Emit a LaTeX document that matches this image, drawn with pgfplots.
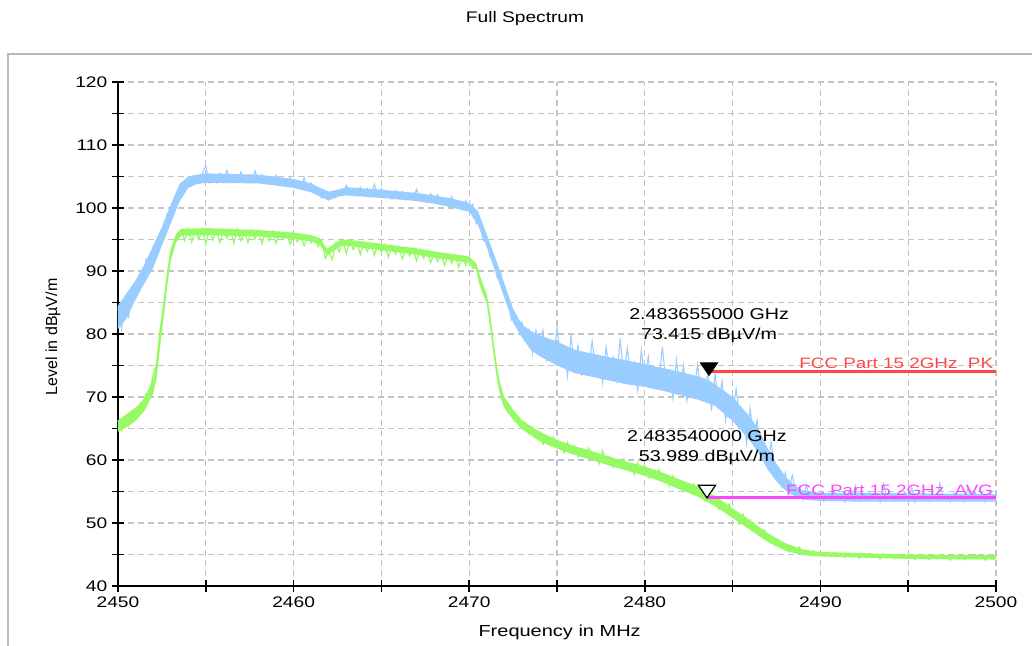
\documentclass[border=0pt]{standalone}
\usepackage{fontspec}
\setmainfont{Liberation Sans}[FakeStretch=1.25]
\newfontfamily\plainfont{Liberation Sans}
\usepackage{pgfplots}
\usepackage{pgfplotstable}
\pgfplotsset{compat=1.18}
\usepgfplotslibrary{fillbetween}
\definecolor{pk}{RGB}{153,204,255}
\definecolor{av}{RGB}{150,250,100}
\definecolor{limred}{RGB}{255,70,70}
\definecolor{limmag}{RGB}{255,70,255}
\definecolor{gridc}{RGB}{195,195,195}
\definecolor{framec}{RGB}{185,185,185}
\pgfdeclareplotmark{tridown}{%
  \pgfpathmoveto{\pgfqpoint{0pt}{0pt}}%
  \pgfpathlineto{\pgfqpoint{-6.5pt}{9.5pt}}%
  \pgfpathlineto{\pgfqpoint{6.5pt}{9.5pt}}%
  \pgfpathclose
  \pgfusepathqfillstroke}
% envelopes of the noise bands: x, lower, upper
\pgfplotstableread{
x L U
2450.0 80.8 84.5
2450.5 82.5 86.5
2451.0 85.5 88.5
2451.5 88.0 91.0
2452.0 90.5 94.0
2452.5 94.0 97.0
2453.0 97.5 100.5
2453.5 101.0 103.8
2454.0 103.2 105.0
2454.5 103.8 105.3
2455.0 104.0 105.5
2458.0 103.9 105.3
2460.0 103.2 104.6
2461.0 102.5 103.9
2461.5 101.8 103.2
2462.0 101.2 102.6
2462.5 101.8 102.9
2463.0 102.0 103.3
2465.0 101.6 102.9
2467.0 101.1 102.4
2468.0 100.7 102.0
2469.0 100.1 101.5
2470.0 99.4 100.8
2470.5 97.3 99.5
2471.0 93.8 95.8
2471.5 89.8 92.0
2472.0 85.8 88.0
2472.5 81.8 84.0
2473.0 79.5 81.5
2473.5 77.5 80.5
2474.0 76.5 79.8
2475.0 75.0 78.8
2476.0 73.8 77.5
2477.0 73.2 76.9
2478.0 72.6 76.3
2479.0 72.0 75.8
2480.0 71.6 75.2
2481.0 71.0 74.6
2482.0 70.3 74.0
2483.0 69.6 73.3
2483.6 69.0 72.7
2484.0 68.6 72.0
2485.0 66.2 70.0
2486.0 63.0 66.8
2486.5 61.0 64.8
2487.0 58.5 61.8
2487.5 56.6 59.4
2488.0 55.2 57.4
2488.5 54.3 56.0
2489.0 53.7 55.2
2490.0 53.5 54.8
2492.0 53.4 54.8
2495.0 53.4 54.7
2500.0 53.4 54.6
}\pkenv
\pgfplotstableread{
x L U
2450.0 64.5 66.3
2450.5 65.2 67.3
2451.0 66.2 68.3
2451.5 67.8 69.8
2452.0 70.5 72.8
2452.2 73.0 75.5
2452.4 78.0 81.0
2452.6 82.5 85.5
2452.8 87.5 90.0
2453.0 91.5 93.5
2453.3 94.5 95.8
2453.6 95.6 96.7
2455.0 95.7 96.8
2458.0 95.5 96.5
2460.0 95.1 96.1
2461.0 94.7 95.7
2461.5 94.1 95.2
2461.9 92.5 93.5
2462.3 93.2 94.3
2462.7 94.0 95.0
2463.0 94.0 95.0
2465.0 93.3 94.3
2467.0 92.6 93.6
2468.0 92.1 93.1
2469.0 91.7 92.7
2470.0 91.3 92.3
2470.4 90.2 91.2
2470.7 87.0 88.5
2471.0 84.8 86.3
2471.2 81.0 83.0
2471.4 76.5 78.5
2471.6 72.5 74.5
2471.8 69.8 71.8
2472.0 68.3 70.0
2472.5 66.4 68.0
2473.0 64.9 66.3
2474.0 63.0 64.5
2475.0 61.8 63.2
2476.0 60.8 62.2
2477.0 60.0 61.4
2478.0 59.1 60.5
2479.0 58.3 59.7
2480.0 57.5 59.0
2481.0 56.5 58.0
2482.0 55.3 56.9
2483.0 54.2 55.8
2484.0 52.7 54.3
2485.0 50.8 52.3
2486.0 48.9 50.4
2487.0 47.0 48.4
2488.0 45.6 46.8
2489.0 44.9 45.8
2490.0 44.7 45.4
2495.0 44.3 45.0
2500.0 44.2 44.9
}\avenv
\begin{document}
\begin{tikzpicture}[x=1pt,y=1pt]
\draw[framec, line width=1.3pt] (695,399) -- (-82.5,399) -- (-82.5,-55.5);
\node[font=\fontsize{11.5}{13}\selectfont] at (305.25,425.25) {Full Spectrum};
\begin{axis}[at={(0,0)}, anchor=south west, scale only axis,
  width=658.5pt, height=378pt,
  xmin=2450, xmax=2500, ymin=40, ymax=120,
  xtick={2450,2460,...,2500}, minor xtick={2455,2465,...,2495},
  ytick={40,50,...,120}, minor ytick={45,55,...,115},
  grid=both,
  major grid style={gridc, dash pattern=on 4.5pt off 3pt, line width=0.8pt},
  minor grid style={gridc, dash pattern=on 4.5pt off 3pt, line width=0.8pt},
  axis lines*=left,
  axis line style={line width=1.4pt, black},
  tick align=center, major tick length=9pt, minor tick length=9pt,
  every tick/.style={line width=1.2pt, black},
  scaled x ticks=false, scaled y ticks=false,
  /pgf/number format/1000 sep={},
  /pgf/number format/assume math mode=true,
  ticklabel style={font=\fontsize{11.5}{13}\selectfont},
  xlabel={Frequency in MHz},
  ylabel={Level in dBµV/m},
  xlabel style={at={(axis description cs:0.503,-0.091)}, anchor=center, font=\fontsize{12}{14}\selectfont},
  ylabel style={at={(axis description cs:-0.074,0.494)}, anchor=center, font=\plainfont\fontsize{12}{14}\selectfont},
  clip=false,
]
% Peak trace (blue): band + noise
\addplot[draw=none, name path=pkU, forget plot] table[x=x, y=U] {\pkenv};
\addplot[draw=none, name path=pkL, forget plot] table[x=x, y=L] {\pkenv};
\addplot[pk, draw=none] fill between[of=pkU and pkL];
\addplot[pk, line width=0.8pt] table {
2450.0 84.2
2450.2 80.8
2450.4 85.5
2450.6 82.8
2450.8 86.9
2451.0 85.6
2451.2 89.3
2451.4 88.0
2451.6 91.9
2451.8 90.7
2452.0 93.5
2452.2 92.3
2452.4 95.5
2452.6 95.4
2452.8 99.1
2453.0 98.5
2453.2 101.2
2453.4 100.6
2453.6 103.9
2453.8 103.0
2454.0 104.6
2454.2 103.6
2454.4 104.7
2454.6 104.1
2454.8 105.5
2455.0 106.7
2455.2 104.0
2455.4 105.2
2455.6 104.0
2455.8 105.5
2456.0 104.4
2456.2 106.0
2456.4 104.1
2456.6 105.0
2456.8 104.3
2457.0 105.7
2457.2 104.5
2457.4 105.2
2457.6 104.0
2457.8 105.9
2458.0 104.4
2458.2 105.3
2458.4 103.9
2458.6 104.8
2458.8 104.0
2459.0 105.2
2459.2 104.1
2459.4 104.6
2459.6 103.4
2459.8 104.8
2460.0 103.6
2460.2 104.4
2460.4 103.0
2460.6 104.8
2460.8 102.9
2461.0 104.0
2461.2 102.8
2461.4 103.1
2461.6 101.6
2461.8 102.7
2462.0 101.3
2462.2 102.5
2462.4 101.6
2462.6 102.8
2462.8 102.3
2463.0 103.6
2463.2 102.5
2463.4 103.1
2463.6 101.9
2463.8 103.3
2464.0 102.2
2464.2 103.1
2464.4 101.8
2464.6 103.8
2464.8 101.9
2465.0 103.1
2465.2 102.0
2465.4 102.6
2465.6 101.4
2465.8 102.8
2466.0 101.6
2466.2 102.6
2466.4 101.3
2466.6 102.1
2466.8 101.4
2467.0 103.0
2467.2 101.5
2467.4 102.1
2467.6 100.9
2467.8 102.3
2468.0 101.2
2468.2 102.1
2468.4 100.7
2468.6 101.4
2468.8 100.6
2469.0 101.8
2469.2 100.7
2469.4 101.2
2469.6 99.8
2469.8 101.2
2470.0 99.9
2470.2 100.6
2470.4 97.5
2470.6 97.6
2470.8 94.8
2471.0 95.2
2471.2 92.1
2471.4 91.9
2471.6 88.9
2471.8 89.8
2472.0 86.4
2472.2 86.1
2472.4 82.2
2472.6 82.4
2472.8 80.6
2473.0 81.9
2473.2 79.4
2473.4 80.7
2473.6 76.9
2473.8 80.6
2474.0 77.2
2474.2 80.6
2474.4 75.9
2474.6 78.4
2474.8 76.2
2475.0 81.0
2475.2 76.1
2475.4 77.6
2475.6 73.3
2475.8 79.8
2476.0 74.7
2476.2 78.2
2476.4 73.6
2476.6 76.2
2476.8 74.1
2477.0 78.9
2477.2 74.6
2477.4 76.3
2477.6 72.2
2477.8 78.0
2478.0 73.8
2478.2 76.3
2478.4 72.7
2478.6 79.3
2478.8 73.3
2479.0 77.7
2479.2 73.7
2479.4 75.4
2479.6 71.0
2479.8 77.4
2480.0 72.9
2480.2 76.4
2480.4 71.7
2480.6 74.3
2480.8 72.1
2481.0 78.0
2481.2 72.5
2481.4 74.1
2481.6 69.8
2481.8 75.9
2482.0 71.5
2482.2 75.0
2482.4 69.4
2482.6 72.9
2482.8 70.7
2483.0 75.1
2483.2 71.0
2483.4 72.6
2483.6 73.4
2483.8 67.8
2484.0 73.6
2484.2 69.1
2484.4 72.5
2484.6 66.2
2484.8 69.6
2485.0 67.2
2485.2 71.3
2485.4 66.5
2485.6 67.6
2485.8 62.6
2486.0 68.2
2486.2 63.4
2486.4 66.3
2486.6 60.8
2486.8 62.4
2487.0 59.4
2487.2 62.8
2487.4 57.9
2487.6 58.6
2487.8 55.7
2488.0 58.0
2488.2 55.3
2488.4 57.6
2488.6 54.8
2488.8 55.8
2489.0 53.7
2489.2 56.0
2489.4 53.8
2489.6 55.1
2489.8 53.9
2490.0 54.7
2490.2 53.4
2490.4 54.3
2490.6 53.6
2490.8 55.0
2491.0 53.9
2491.2 54.5
2491.4 53.3
2491.6 54.8
2491.8 53.7
2492.0 55.9
2492.2 53.4
2492.4 54.3
2492.6 53.6
2492.8 54.9
2493.0 53.9
2493.2 54.5
2493.4 53.3
2493.6 56.2
2493.8 53.7
2494.0 54.7
2494.2 53.4
2494.4 54.3
2494.6 53.6
2494.8 54.9
2495.0 53.9
2495.2 55.7
2495.4 53.3
2495.6 54.8
2495.8 53.7
2496.0 54.6
2496.2 53.4
2496.4 54.3
2496.6 53.6
2496.8 56.3
2497.0 53.9
2497.2 54.5
2497.4 53.3
2497.6 54.8
2497.8 53.7
2498.0 54.6
2498.2 53.4
2498.4 55.6
2498.6 53.6
2498.8 54.9
2499.0 53.9
2499.2 54.5
2499.4 53.3
2499.6 54.8
2499.8 53.7
2500.0 54.4
};
% Average trace (green): band + noise
\addplot[draw=none, name path=avU, forget plot] table[x=x, y=U] {\avenv};
\addplot[draw=none, name path=avL, forget plot] table[x=x, y=L] {\avenv};
\addplot[av, draw=none] fill between[of=avU and avL];
\addplot[av, line width=0.9pt] table {
2450.0 66.3
2450.2 64.6
2450.4 66.6
2450.6 65.4
2450.8 67.8
2451.0 66.6
2451.2 68.4
2451.4 68.9
2451.6 70.6
2451.8 70.2
2452.0 73.6
2452.2 75.4
2452.4 80.7
2452.6 84.4
2452.8 89.2
2453.0 92.9
2453.2 94.8
2453.4 95.9
2453.6 96.6
2453.8 94.8
2454.0 96.7
2454.2 94.6
2454.4 96.5
2454.6 95.0
2454.8 96.7
2455.0 94.3
2455.2 96.6
2455.4 94.9
2455.6 96.4
2455.8 94.5
2456.0 96.6
2456.2 95.2
2456.4 96.5
2456.6 94.4
2456.8 96.6
2457.0 94.8
2457.2 96.3
2457.4 94.5
2457.6 96.5
2457.8 95.1
2458.0 96.4
2458.2 94.3
2458.4 96.2
2458.6 94.8
2458.8 96.3
2459.0 94.4
2459.2 96.1
2459.4 95.0
2459.6 96.0
2459.8 94.2
2460.0 95.9
2460.2 94.6
2460.4 95.8
2460.6 94.0
2460.8 95.6
2461.0 94.5
2461.2 95.4
2461.4 93.9
2461.6 94.9
2461.8 92.0
2462.0 93.0
2462.2 91.8
2462.4 94.4
2462.6 93.0
2462.8 94.9
2463.0 92.8
2463.2 94.8
2463.4 93.4
2463.6 94.7
2463.8 92.6
2464.0 94.6
2464.2 93.1
2464.4 94.5
2464.6 92.5
2464.8 94.3
2465.0 93.0
2465.2 94.2
2465.4 92.2
2465.6 94.0
2465.8 92.7
2466.0 93.9
2466.2 91.9
2466.4 93.7
2466.6 92.4
2466.8 93.6
2467.0 91.6
2467.2 93.4
2467.4 92.0
2467.6 93.3
2467.8 91.3
2468.0 92.9
2468.2 91.5
2468.4 92.8
2468.6 90.9
2468.8 92.7
2469.0 91.2
2469.2 92.5
2469.4 90.6
2469.6 92.4
2469.8 90.9
2470.0 92.1
2470.2 90.4
2470.4 90.8
2470.6 88.0
2470.8 86.6
2471.0 85.6
2471.2 82.0
2471.4 77.5
2471.6 73.5
2471.8 70.8
2472.0 68.9
2472.2 67.6
2472.4 67.9
2472.6 66.2
2472.8 66.8
2473.0 65.1
2473.2 65.9
2473.4 64.2
2473.6 65.2
2473.8 63.6
2474.0 64.5
2474.2 62.5
2474.4 63.4
2474.6 62.3
2474.8 63.7
2475.0 62.1
2475.2 62.7
2475.4 61.1
2475.6 62.8
2475.8 61.2
2476.0 62.2
2476.2 60.5
2476.4 61.5
2476.6 60.4
2476.8 61.9
2477.0 60.4
2477.2 61.0
2477.4 59.4
2477.6 61.5
2477.8 59.5
2478.0 60.5
2478.2 58.8
2478.4 59.8
2478.6 58.7
2478.8 60.2
2479.0 58.7
2479.2 59.4
2479.4 57.7
2479.6 59.5
2479.8 58.0
2480.0 59.0
2480.2 57.2
2480.4 58.2
2480.6 57.1
2480.8 58.5
2481.0 57.0
2481.2 57.6
2481.4 55.8
2481.6 57.5
2481.8 55.9
2482.0 56.8
2482.2 55.0
2482.4 56.0
2482.6 54.9
2482.8 56.2
2483.0 54.7
2483.2 55.2
2483.4 53.5
2483.6 54.0
2483.8 53.3
2484.0 54.2
2484.2 52.2
2484.4 53.0
2484.6 51.8
2484.8 53.0
2485.0 51.3
2485.2 51.8
2485.4 49.9
2485.6 51.4
2485.8 49.7
2486.0 50.5
2486.2 48.8
2486.4 49.2
2486.6 48.2
2486.8 48.9
2487.0 47.6
2487.2 47.8
2487.4 46.5
2487.6 47.4
2487.8 46.2
2488.0 46.7
2488.2 45.4
2488.4 46.1
2488.6 45.3
2488.8 46.2
2489.0 45.2
2489.2 45.6
2489.4 44.9
2489.6 45.6
2489.8 44.9
2490.0 45.4
2490.2 44.7
2490.4 45.1
2490.6 44.7
2490.8 45.3
2491.0 44.8
2491.2 45.1
2491.4 44.5
2491.6 45.2
2491.8 44.6
2492.0 45.1
2492.2 44.4
2492.4 44.9
2492.6 44.5
2492.8 45.2
2493.0 44.6
2493.2 44.9
2493.4 44.3
2493.6 45.1
2493.8 44.5
2494.0 44.9
2494.2 44.3
2494.4 44.8
2494.6 44.4
2494.8 45.0
2495.0 44.5
2495.2 44.8
2495.4 44.2
2495.6 45.0
2495.8 44.4
2496.0 44.8
2496.2 44.2
2496.4 44.7
2496.6 44.3
2496.8 45.0
2497.0 44.4
2497.2 44.7
2497.4 44.1
2497.6 44.9
2497.8 44.3
2498.0 44.8
2498.2 44.2
2498.4 44.7
2498.6 44.3
2498.8 45.0
2499.0 44.4
2499.2 44.7
2499.4 44.1
2499.6 44.9
2499.8 44.3
2500.0 44.7
};
% limit lines
\addplot[limred, line width=2pt] coordinates {(2483.655,74) (2500,74)};
\addplot[limmag, line width=2pt] coordinates {(2483.54,54) (2500,54)};
% markers
\addplot[only marks, mark=tridown, mark options={draw=black, fill=black, line width=0.6pt}] coordinates {(2483.655,73.415)};
\addplot[only marks, mark=tridown, mark options={draw=black, fill=white, line width=0.9pt}] coordinates {(2483.54,53.989)};
\node[font=\fontsize{11.8}{15}\selectfont, align=center] at (axis cs:2483.66,81.4) {2.483655000 GHz\\73.415 dBµV/m};
\node[font=\fontsize{11.8}{15}\selectfont, align=center] at (axis cs:2483.54,61.9) {2.483540000 GHz\\53.989 dBµV/m};
\node[font=\fontsize{11.3}{12}\selectfont, text=limred, anchor=base east, inner sep=0pt] at (axis cs:2499.85,74.45) {FCC Part 15 2GHz\ \ PK};
\node[font=\fontsize{11.3}{12}\selectfont, text=limmag, anchor=base east, inner sep=0pt] at (axis cs:2499.85,54.3) {FCC Part 15 2GHz\ \ AVG};
\end{axis}
\pgfresetboundingbox
\useasboundingbox (-88.5,-45) rectangle (685.5,439.5);
\end{tikzpicture}
\end{document}
